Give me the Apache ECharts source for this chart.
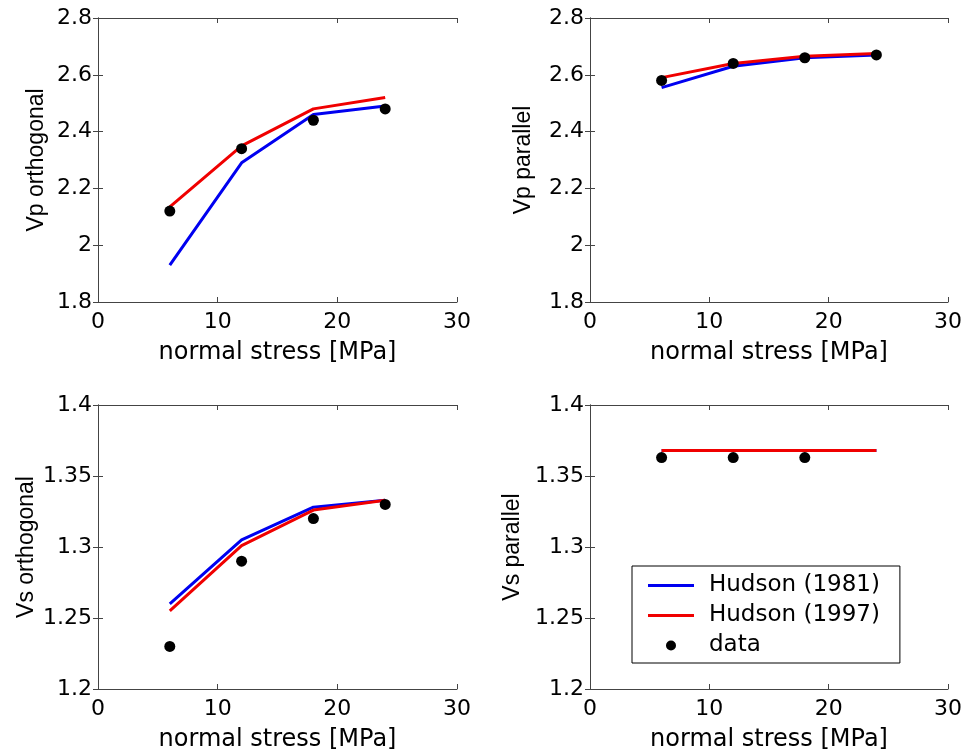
<!DOCTYPE html>
<html>
<head>
<meta charset="utf-8">
<script src="https://cdn.jsdelivr.net/npm/echarts@6/dist/echarts.min.js"></script>
<style>
html,body{margin:0;padding:0;background:#fff;}
#chart{width:966px;height:755px;}
</style>
</head>
<body>
<div id="chart"></div>
<script>
// ---- data ----
const xStress = [6, 12, 18, 24];
const xStressVsPar = [6, 12, 18];
const vpOrthH81 = [1.93, 2.29, 2.46, 2.49];
const vpOrthH97 = [2.135, 2.35, 2.48, 2.52];
const vpOrthData = [2.12, 2.34, 2.44, 2.48];
const vpParH81 = [2.555, 2.63, 2.66, 2.67];
const vpParH97 = [2.59, 2.64, 2.665, 2.675];
const vpParData = [2.58, 2.64, 2.66, 2.67];
const vsOrthH81 = [1.26, 1.305, 1.328, 1.333];
const vsOrthH97 = [1.255, 1.301, 1.326, 1.333];
const vsOrthData = [1.23, 1.29, 1.32, 1.33];
const vsParH81 = [1.368, 1.368, 1.368, 1.368];
const vsParH97 = [1.368, 1.368, 1.368, 1.368];
const vsParData = [1.363, 1.363, 1.363];
const yNames = ['Vp orthogonal', 'Vp parallel', 'Vs orthogonal', 'Vs parallel'];
const xName = 'normal stress [MPa]';
const seriesNames = ['Hudson (1981)', 'Hudson (1997)', 'data'];

const FONT_W = "'DejaVu Sans', Arial, sans-serif";
const FONT = "'Liberation Sans', Arial, Helvetica, sans-serif";
const pairs = (xs, ys) => xs.map((x, i) => [x, ys[i]]);

const grids = [
  {left: 98, top: 18, width: 359, height: 284},
  {left: 590, top: 18, width: 358, height: 284},
  {left: 98, top: 405, width: 359, height: 284},
  {left: 590, top: 405, width: 358, height: 284}
];
const yRanges = [
  {min: 1.8, max: 2.8, interval: 0.2},
  {min: 1.8, max: 2.8, interval: 0.2},
  {min: 1.2, max: 1.4, interval: 0.05},
  {min: 1.2, max: 1.4, interval: 0.05}
];
const yNameGaps = [50, 55, 60, 66];

const axisLine = {show: true, lineStyle: {color: '#444', width: 1}};
const tick = {show: true, inside: true, length: 5, lineStyle: {color: '#444'}};

const xAxes = [], yAxes = [];
grids.forEach((g, i) => {
  xAxes.push({
    type: 'value', gridIndex: i, min: 0, max: 30, interval: 10, position: 'bottom',
    axisLine, axisTick: tick, splitLine: {show: false},
    axisLabel: {color: '#000', fontSize: 22, fontFamily: FONT_W, margin: 9},
    name: xName, nameLocation: 'middle', nameGap: 39,
    nameTextStyle: {color: '#000', fontSize: 24, fontFamily: FONT_W}
  });
  xAxes.push({
    type: 'value', gridIndex: i, min: 0, max: 30, interval: 10, position: 'top',
    axisLine, axisTick: tick, splitLine: {show: false}, axisLabel: {show: false}
  });
  yAxes.push({
    type: 'value', gridIndex: i, min: yRanges[i].min, max: yRanges[i].max, interval: yRanges[i].interval,
    position: 'left', axisLine, axisTick: tick, splitLine: {show: false},
    axisLabel: {color: '#000', fontSize: 22, fontFamily: FONT_W, margin: 6},
    name: yNames[i], nameLocation: 'middle', nameGap: yNameGaps[i], nameRotate: 90,
    nameTextStyle: {color: '#000', fontSize: 23, fontFamily: FONT}
  });
  yAxes.push({
    type: 'value', gridIndex: i, min: yRanges[i].min, max: yRanges[i].max, interval: yRanges[i].interval,
    position: 'right', axisLine, axisTick: tick, splitLine: {show: false}, axisLabel: {show: false}
  });
});

const panels = [
  [xStress, vpOrthH81, xStress, vpOrthH97, xStress, vpOrthData],
  [xStress, vpParH81, xStress, vpParH97, xStress, vpParData],
  [xStress, vsOrthH81, xStress, vsOrthH97, xStress, vsOrthData],
  [xStress, vsParH81, xStress, vsParH97, xStressVsPar, vsParData]
];
const series = [];
panels.forEach((p, i) => {
  series.push({
    name: seriesNames[0], type: 'line', xAxisIndex: 2 * i, yAxisIndex: 2 * i,
    data: pairs(p[0], p[1]), symbol: 'none', lineStyle: {color: '#0000f0', width: 3},
    itemStyle: {color: '#0000f0'}, z: 2, animation: false
  });
  series.push({
    name: seriesNames[1], type: 'line', xAxisIndex: 2 * i, yAxisIndex: 2 * i,
    data: pairs(p[2], p[3]), symbol: 'none', lineStyle: {color: '#f00000', width: 3},
    itemStyle: {color: '#f00000'}, z: 3, animation: false
  });
  series.push({
    name: seriesNames[2], type: 'scatter', xAxisIndex: 2 * i, yAxisIndex: 2 * i,
    data: pairs(p[4], p[5]), symbol: 'circle', symbolSize: 11,
    itemStyle: {color: '#000', opacity: 1}, z: 4, animation: false
  });
});

const lineIcon = 'path://M0,0 L46,0 L46,3 L0,3 Z';
const chart = echarts.init(document.getElementById('chart'), null, {renderer: 'canvas'});
chart.setOption({
  backgroundColor: '#fff',
  animation: false,
  grid: grids.map(g => Object.assign({containLabel: false}, g)),
  xAxis: xAxes,
  yAxis: yAxes,
  legend: {
    orient: 'vertical', left: 632, top: 566,
    backgroundColor: '#fff', borderColor: '#000', borderWidth: 1,
    padding: [8, 20, 6, 16], itemGap: 7, itemWidth: 46, itemHeight: 10,
    textStyle: {color: '#000', fontSize: 23, fontFamily: FONT_W, padding: [0, 0, 0, 10]},
    selectedMode: false,
    data: [
      {name: seriesNames[0], icon: lineIcon, itemStyle: {color: '#0000f0'}},
      {name: seriesNames[1], icon: lineIcon, itemStyle: {color: '#f00000'}},
      {name: seriesNames[2], icon: 'circle', itemStyle: {color: '#000', opacity: 1}}
    ]
  },
  series
});
</script>
</body>
</html>
